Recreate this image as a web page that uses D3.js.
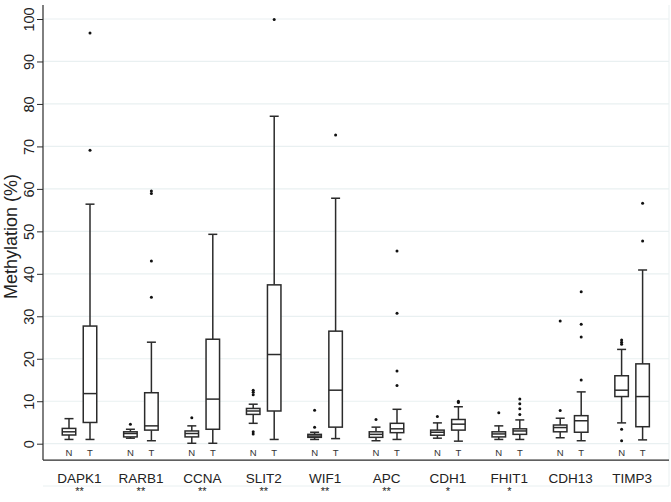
<!DOCTYPE html>
<html>
<head>
<meta charset="utf-8">
<script src="https://cdn.jsdelivr.net/npm/d3@7"></script>
<style>
  html, body { margin: 0; padding: 0; background: #fff; }
  svg { display: block; font-family: "Liberation Sans", Arial, sans-serif; }
</style>
</head>
<body>
<svg id="chart" width="671" height="502"></svg>
<script>
// ---- data ----
const genes = ["DAPK1","RARB1","CCNA","SLIT2","WIF1","APC","CDH1","FHIT1","CDH13","TIMP3"];
const significance = ["**","**","**","**","**","**","*","*","",""];
const groups = ["N","T"];
const yTicks = [0,10,20,30,40,50,60,70,80,90,100];

// five-number summaries: [lower whisker, Q1, median, Q3, upper whisker]
const normalStats = [
  [1.0, 2.05, 2.8, 3.6, 5.9],
  [1.3, 1.6, 2.4, 2.8, 3.4],
  [0.1, 1.6, 2.4, 3.0, 4.2],
  [4.8, 6.9, 7.7, 8.3, 9.3],
  [1.0, 1.5, 1.8, 2.2, 2.7],
  [0.7, 1.5, 2.2, 2.8, 3.9],
  [1.3, 2.0, 2.7, 3.2, 4.9],
  [1.0, 1.6, 2.3, 2.8, 4.2],
  [1.4, 2.8, 3.8, 4.4, 6.0],
  [4.9, 11.1, 12.6, 16.0, 22.2]
];
const tumorStats = [
  [1.0, 5.0, 11.8, 27.7, 56.4],
  [0.7, 3.2, 4.2, 12.0, 23.9],
  [0.1, 3.4, 10.5, 24.6, 49.3],
  [1.0, 7.7, 21.0, 37.4, 77.1],
  [1.2, 3.9, 12.6, 26.5, 57.8],
  [1.0, 2.6, 3.5, 4.8, 8.1],
  [0.6, 3.2, 4.6, 5.7, 8.7],
  [1.0, 2.2, 3.0, 3.5, 5.6],
  [0.7, 2.7, 5.4, 6.6, 12.2],
  [0.9, 4.0, 11.1, 18.8, 40.9]
];
const normalOutliers = [
  [],
  [4.6],
  [6.1],
  [2.3, 2.8, 11.5, 12.1, 12.6],
  [3.9, 7.9],
  [5.7],
  [6.4],
  [7.3],
  [7.8, 28.9],
  [0.7, 3.4, 23.4, 23.9, 24.4]
];
const tumorOutliers = [
  [69.1, 96.7],
  [34.5, 43.0, 58.9, 59.5],
  [],
  [99.9],
  [72.7],
  [13.7, 17.1, 30.7, 45.4],
  [9.7, 10.0],
  [6.9, 8.2, 9.4, 10.5],
  [15.0, 25.1, 28.1, 35.8],
  [47.7, 56.6]
];

// ---- layout ----
const svg = d3.select("#chart");
const axisX = 43, plotTop = 5, rightEdge = 669;

const y = d3.scaleLinear().domain([0, 100]).range([443.7, 19]);
const axisY = y(-3.85);

const x = d3.scaleBand().domain(genes).range([48.8, 662.8]).padding(0);
const sub = d3.scalePoint().domain(groups).range([-10.5, 10.5]);

const ink = "#2b2b2b";
const gridColor = "#e9f0f1";

// faint outer frame
svg.append("line").attr("x1", axisX).attr("x2", rightEdge).attr("y1", 486).attr("y2", 486)
  .attr("stroke", gridColor).attr("stroke-width", 1);
svg.append("line").attr("x1", rightEdge).attr("x2", rightEdge).attr("y1", plotTop).attr("y2", 486)
  .attr("stroke", gridColor).attr("stroke-width", 1);

// grid
svg.append("g").selectAll("line").data(yTicks).join("line")
  .attr("x1", axisX).attr("x2", rightEdge)
  .attr("y1", d => y(d)).attr("y2", d => y(d))
  .attr("stroke", gridColor).attr("stroke-width", 1.2);

// y axis
const yAxis = d3.axisLeft(y).tickValues(yTicks).tickSize(6).tickPadding(3);
const gy = svg.append("g").attr("transform", `translate(${axisX},0)`).call(yAxis);
gy.select(".domain").remove();
gy.selectAll(".tick line").attr("stroke", ink);
gy.selectAll(".tick text")
  .attr("font-size", 14.5).attr("fill", "#222")
  .attr("text-anchor", "middle")
  .attr("x", 0).attr("y", -9).attr("dy", 0)
  .attr("transform", "rotate(-90)");
svg.append("line").attr("x1", axisX).attr("x2", axisX).attr("y1", plotTop).attr("y2", axisY)
  .attr("stroke", ink).attr("stroke-width", 1.2);

// x axis line
svg.append("line").attr("x1", axisX).attr("x2", rightEdge).attr("y1", axisY).attr("y2", axisY)
  .attr("stroke", ink).attr("stroke-width", 1.2);

// y title
svg.append("text")
  .attr("transform", `translate(17,${(plotTop + axisY) / 2 + 4}) rotate(-90)`)
  .attr("text-anchor", "middle").attr("font-size", 18).attr("fill", "#222")
  .text("Methylation (%)");

// boxes
const boxW = 13.5, capW = 9;
const boxes = [];
genes.forEach((g, i) => {
  boxes.push({gene: g, grp: "N", s: normalStats[i], out: normalOutliers[i]});
  boxes.push({gene: g, grp: "T", s: tumorStats[i], out: tumorOutliers[i]});
});

const gb = svg.append("g").selectAll("g").data(boxes).join("g")
  .attr("transform", d => `translate(${x(d.gene) + x.bandwidth() / 2 + sub(d.grp)},0)`);

// whiskers
gb.append("line").attr("x1", 0).attr("x2", 0)
  .attr("y1", d => y(d.s[3])).attr("y2", d => y(d.s[4]))
  .attr("stroke", ink).attr("stroke-width", 1.5);
gb.append("line").attr("x1", 0).attr("x2", 0)
  .attr("y1", d => y(d.s[1])).attr("y2", d => y(d.s[0]))
  .attr("stroke", ink).attr("stroke-width", 1.5);
gb.append("line").attr("x1", -capW / 2).attr("x2", capW / 2)
  .attr("y1", d => y(d.s[4])).attr("y2", d => y(d.s[4]))
  .attr("stroke", ink).attr("stroke-width", 1.5);
gb.append("line").attr("x1", -capW / 2).attr("x2", capW / 2)
  .attr("y1", d => y(d.s[0])).attr("y2", d => y(d.s[0]))
  .attr("stroke", ink).attr("stroke-width", 1.5);
// box
gb.append("rect").attr("x", -boxW / 2).attr("width", boxW)
  .attr("y", d => y(d.s[3])).attr("height", d => y(d.s[1]) - y(d.s[3]))
  .attr("fill", "#fff").attr("stroke", ink).attr("stroke-width", 1.5);
// median
gb.append("line").attr("x1", -boxW / 2).attr("x2", boxW / 2)
  .attr("y1", d => y(d.s[2])).attr("y2", d => y(d.s[2]))
  .attr("stroke", ink).attr("stroke-width", 1.5);
// outliers
gb.selectAll("circle").data(d => d.out).join("circle")
  .attr("cx", 0).attr("cy", v => y(v)).attr("r", 1.5).attr("fill", "#111");

// N / T labels
gb.append("text").attr("x", 0).attr("y", 456)
  .attr("text-anchor", "middle").attr("font-size", 9.5).attr("fill", "#333")
  .text(d => d.grp);

// gene labels
const gl = svg.append("g").selectAll("g").data(genes).join("g")
  .attr("transform", d => `translate(${x(d) + x.bandwidth() / 2},0)`);
gl.append("text").attr("y", 483).attr("text-anchor", "middle")
  .attr("font-size", 13.5).attr("fill", "#222").text(d => d);
gl.append("text").attr("y", 495).attr("text-anchor", "middle")
  .attr("font-size", 11).attr("fill", "#222")
  .text((d, i) => significance[i]);
</script>
</body>
</html>
